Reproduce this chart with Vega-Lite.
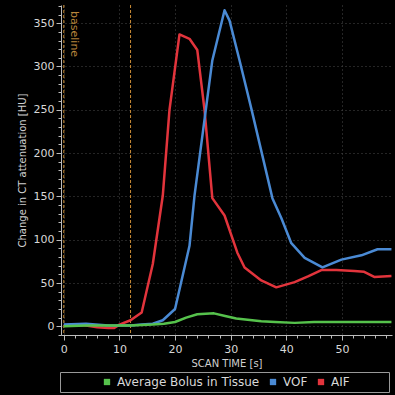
{
  "$schema": "https://vega.github.io/schema/vega-lite/v6.json",
  "autosize": "none",
  "width": 331,
  "height": 330,
  "padding": {"left": 61, "top": 5, "right": 3, "bottom": 60},
  "background": "#000000",
  "config": {
    "view": {"stroke": null},
    "font": "DejaVu Sans",
    "axis": {
      "domainColor": "#bbbbbb",
      "tickColor": "#bbbbbb",
      "labelColor": "#d8d8d8",
      "titleColor": "#d0d0d0",
      "labelFontSize": 11,
      "titleFontSize": 10,
      "titleFontWeight": "normal",
      "gridColor": "#4a4a4a",
      "gridDash": [1, 3],
      "gridWidth": 1
    }
  },
  "datasets": {
    "curves": [
      {"series": "AIF", "t": 0, "v": 1}, {"series": "AIF", "t": 2, "v": 2}, {"series": "AIF", "t": 4, "v": 1},
      {"series": "AIF", "t": 6, "v": -1}, {"series": "AIF", "t": 8, "v": -2}, {"series": "AIF", "t": 9, "v": -2},
      {"series": "AIF", "t": 10, "v": 2}, {"series": "AIF", "t": 12, "v": 7}, {"series": "AIF", "t": 14, "v": 16},
      {"series": "AIF", "t": 16, "v": 72}, {"series": "AIF", "t": 17.8, "v": 151}, {"series": "AIF", "t": 19, "v": 250},
      {"series": "AIF", "t": 20.8, "v": 337}, {"series": "AIF", "t": 22.6, "v": 332}, {"series": "AIF", "t": 24, "v": 319},
      {"series": "AIF", "t": 25.3, "v": 250}, {"series": "AIF", "t": 26.7, "v": 148}, {"series": "AIF", "t": 28.9, "v": 128},
      {"series": "AIF", "t": 31.2, "v": 85}, {"series": "AIF", "t": 32.5, "v": 68}, {"series": "AIF", "t": 35.5, "v": 53},
      {"series": "AIF", "t": 38.2, "v": 45}, {"series": "AIF", "t": 41.5, "v": 51}, {"series": "AIF", "t": 44, "v": 58},
      {"series": "AIF", "t": 46.3, "v": 65}, {"series": "AIF", "t": 49, "v": 65}, {"series": "AIF", "t": 52.2, "v": 64},
      {"series": "AIF", "t": 54, "v": 63}, {"series": "AIF", "t": 55.8, "v": 57}, {"series": "AIF", "t": 58.9, "v": 58},
      {"series": "VOF", "t": 0, "v": 2}, {"series": "VOF", "t": 4, "v": 3}, {"series": "VOF", "t": 8, "v": 1},
      {"series": "VOF", "t": 12, "v": 1}, {"series": "VOF", "t": 14, "v": 2}, {"series": "VOF", "t": 16, "v": 3},
      {"series": "VOF", "t": 17.8, "v": 7}, {"series": "VOF", "t": 20, "v": 20}, {"series": "VOF", "t": 22.6, "v": 93},
      {"series": "VOF", "t": 23.5, "v": 151}, {"series": "VOF", "t": 26.7, "v": 307}, {"series": "VOF", "t": 28.9, "v": 365},
      {"series": "VOF", "t": 29.8, "v": 353}, {"series": "VOF", "t": 31.6, "v": 307}, {"series": "VOF", "t": 33.8, "v": 249},
      {"series": "VOF", "t": 37.5, "v": 148}, {"series": "VOF", "t": 39.1, "v": 125}, {"series": "VOF", "t": 40.9, "v": 96},
      {"series": "VOF", "t": 43.3, "v": 79}, {"series": "VOF", "t": 46.5, "v": 68}, {"series": "VOF", "t": 49.9, "v": 77},
      {"series": "VOF", "t": 53.5, "v": 82}, {"series": "VOF", "t": 56.4, "v": 89}, {"series": "VOF", "t": 58.9, "v": 89},
      {"series": "Average Bolus in Tissue", "t": 0, "v": 0}, {"series": "Average Bolus in Tissue", "t": 4, "v": 1},
      {"series": "Average Bolus in Tissue", "t": 8, "v": 1}, {"series": "Average Bolus in Tissue", "t": 12, "v": 1},
      {"series": "Average Bolus in Tissue", "t": 16, "v": 2}, {"series": "Average Bolus in Tissue", "t": 18, "v": 3},
      {"series": "Average Bolus in Tissue", "t": 20, "v": 5}, {"series": "Average Bolus in Tissue", "t": 22, "v": 10},
      {"series": "Average Bolus in Tissue", "t": 24, "v": 14}, {"series": "Average Bolus in Tissue", "t": 27, "v": 15},
      {"series": "Average Bolus in Tissue", "t": 29, "v": 12}, {"series": "Average Bolus in Tissue", "t": 31, "v": 9},
      {"series": "Average Bolus in Tissue", "t": 35.5, "v": 6}, {"series": "Average Bolus in Tissue", "t": 38, "v": 5},
      {"series": "Average Bolus in Tissue", "t": 41.5, "v": 4}, {"series": "Average Bolus in Tissue", "t": 45, "v": 5},
      {"series": "Average Bolus in Tissue", "t": 50, "v": 5}, {"series": "Average Bolus in Tissue", "t": 55, "v": 5},
      {"series": "Average Bolus in Tissue", "t": 58.9, "v": 5}
    ],
    "baselines": [{"t": 0}, {"t": 12}],
    "note": [{"t": 0.9, "v": 364, "label": "baseline"}]
  },
  "resolve": {"axis": {"x": "independent", "y": "independent"}},
  "layer": [
    {
      "data": {"name": "baselines"},
      "mark": {"type": "rule", "color": "#c88a34", "strokeDash": [3, 2], "strokeWidth": 1},
      "encoding": {
        "x": {"field": "t", "type": "quantitative", "scale": {"domain": [-0.5, 59], "nice": false, "zero": false},
              "axis": {"orient": "bottom", "values": [0, 2, 4, 6, 8, 10, 12, 14, 16, 18, 20, 22, 24, 26, 28, 30, 32, 34, 36, 38, 40, 42, 44, 46, 48, 50, 52, 54, 56, 58], "labels": false, "domain": false, "grid": false, "tickSize": 3, "title": null}}
      }
    },
    {
      "data": {"name": "note"},
      "mark": {"type": "text", "angle": 90, "align": "left", "baseline": "bottom", "color": "#b9863c", "fontSize": 11},
      "encoding": {
        "x": {"field": "t", "type": "quantitative", "axis": null},
        "y": {"field": "v", "type": "quantitative", "axis": {"orient": "left", "values": [-10, 0, 10, 20, 30, 40, 50, 60, 70, 80, 90, 100, 110, 120, 130, 140, 150, 160, 170, 180, 190, 200, 210, 220, 230, 240, 250, 260, 270, 280, 290, 300, 310, 320, 330, 340, 350, 360, 370], "labels": false, "domain": false, "grid": false, "tickSize": 3, "title": null}},
        "text": {"field": "label"}
      }
    },
    {
      "data": {"name": "curves"},
      "mark": {"type": "line", "strokeWidth": 2.5, "interpolate": "linear", "strokeJoin": "round"},
      "encoding": {
        "x": {"field": "t", "type": "quantitative", "title": "SCAN TIME [s]",
              "axis": {"orient": "bottom", "values": [0, 10, 20, 30, 40, 50], "tickSize": 5, "grid": true, "titlePadding": 4, "labelPadding": 3}},
        "y": {"field": "v", "type": "quantitative", "title": "Change in CT attenuation [HU]",
              "scale": {"domain": [-10, 371], "nice": false, "zero": false},
              "axis": {"orient": "left", "values": [0, 50, 100, 150, 200, 250, 300, 350], "tickSize": 5, "grid": true, "titlePadding": 6}},
        "color": {
          "field": "series", "type": "nominal",
          "scale": {"domain": ["Average Bolus in Tissue", "VOF", "AIF"], "range": ["#56c24c", "#4a8ad4", "#e2343c"]},
          "legend": {
            "title": "\u2800\u2800\u2800\u2800",
            "titleOrient": "left",
            "titlePadding": 2,
            "titleFontSize": 11,
            "orient": "none",
            "legendX": -1,
            "legendY": 367,
            "direction": "horizontal",
            "symbolType": "square",
            "symbolSize": 40,
            "symbolStrokeWidth": 0,
            "labelFontSize": 12,
            "labelColor": "#d8d8d8",
            "columnPadding": 7,
            "padding": 4,
            "strokeColor": "#999999",
            "labelExpr": "datum.label == 'AIF' ? 'AIF\u2800\u2800\u2800\u2800' : datum.label",
            "encode": {"symbols": {"update": {"fill": {"scale": "color", "field": "value"}, "opacity": {"value": 1}}}}
          }
        }
      }
    }
  ]
}
